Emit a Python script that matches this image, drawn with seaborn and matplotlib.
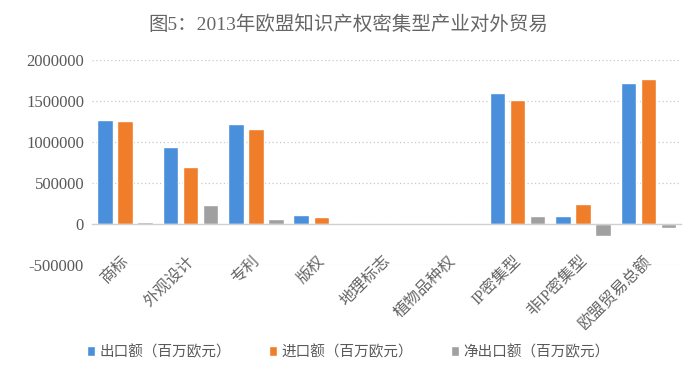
import matplotlib
matplotlib.use("Agg")
import matplotlib.pyplot as plt
import matplotlib.transforms as mtransforms
import seaborn as sns
import pandas as pd
import numpy as np

categories = ["商标", "外观设计", "专利", "版权", "地理标志", "植物品种权",
              "IP密集型", "非IP密集型", "欧盟贸易总额"]
export_vals = [1270000, 935000, 1220000, 105000, 1500, 4000, 1600000, 100000, 1716000]
import_vals = [1252000, 695000, 1155000, 85000, 6000, 5000, 1505000, 240000, 1765000]
net_vals = [18000, 235000, 62000, 10000, -4500, -1000, 92000, -150000, -52000]
series_names = ["出口额（百万欧元）", "进口额（百万欧元）", "净出口额（百万欧元）"]
y_ticks = [-500000, 0, 500000, 1000000, 1500000, 2000000]
title_text = "图5：2013年欧盟知识产权密集型产业对外贸易"
colors = ["#4A8FDB", "#EF7D2A", "#A0A0A0"]

df = pd.DataFrame({
    "category": categories * 3,
    "series": [series_names[0]] * 9 + [series_names[1]] * 9 + [series_names[2]] * 9,
    "value": export_vals + import_vals + net_vals,
})

sns.set_theme(style="white")
plt.rcParams["font.family"] = ["Liberation Serif", "Noto Sans CJK SC"]

fig = plt.figure(figsize=(7.0, 3.72), dpi=100)
ax = fig.add_axes([0.132, 0.288, 0.841, 0.551])

sns.barplot(data=df, x="category", y="value", hue="series", order=categories,
            hue_order=series_names, palette=colors, width=0.92, gap=0.22,
            saturation=1, ax=ax, legend=True)

ax.set_ylim(-500000, 2000000)
ax.set_xlim(-0.5, len(categories) - 0.5)
ax.set_yticks(y_ticks)
ax.set_yticklabels([str(v) for v in y_ticks], fontsize=12, color="#595959",
                   family=["Liberation Serif"])
ax.set_xlabel("")
ax.set_ylabel("")

for v in y_ticks:
    if v != 0:
        ax.axhline(v, color="#C8C8C8", lw=0.9, ls=(0, (1, 2)), zorder=0)

for s in ["top", "right", "left"]:
    ax.spines[s].set_visible(False)
ax.spines["bottom"].set_position(("data", 0))
ax.spines["bottom"].set_color("#D0D0D0")
ax.spines["bottom"].set_linewidth(1.0)
ax.tick_params(axis="both", length=0)
ax.tick_params(axis="x", pad=21)
ax.tick_params(axis="y", pad=6)
ax.set_xticks(range(len(categories)))
ax.set_xticklabels(categories, rotation=45, ha="right", va="top",
                   rotation_mode="anchor", fontsize=11.5, color="#666666")
offset = mtransforms.ScaledTranslation(-3 / 72, 0, fig.dpi_scale_trans)
for lbl in ax.get_xticklabels():
    lbl.set_family(["Liberation Serif", "Noto Sans CJK SC"])
    lbl.set_transform(lbl.get_transform() + offset)

handles, labels = ax.get_legend_handles_labels()
ax.get_legend().remove()
leg = fig.legend(handles, labels, loc="center", bbox_to_anchor=(0.497, 0.054),
                 ncol=3, frameon=False, handlelength=0.6, handleheight=0.6,
                 handletextpad=0.25, columnspacing=2.6,
                 prop={"family": ["Noto Sans CJK SC"], "size": 10.5})
for t in leg.get_texts():
    t.set_color("#595959")

fig.text(0.497, 0.933, title_text, ha="center", va="center", fontsize=14,
         color="#666666", family=["Liberation Serif", "Noto Sans CJK SC"])

fig.savefig("out.png", dpi=100)
